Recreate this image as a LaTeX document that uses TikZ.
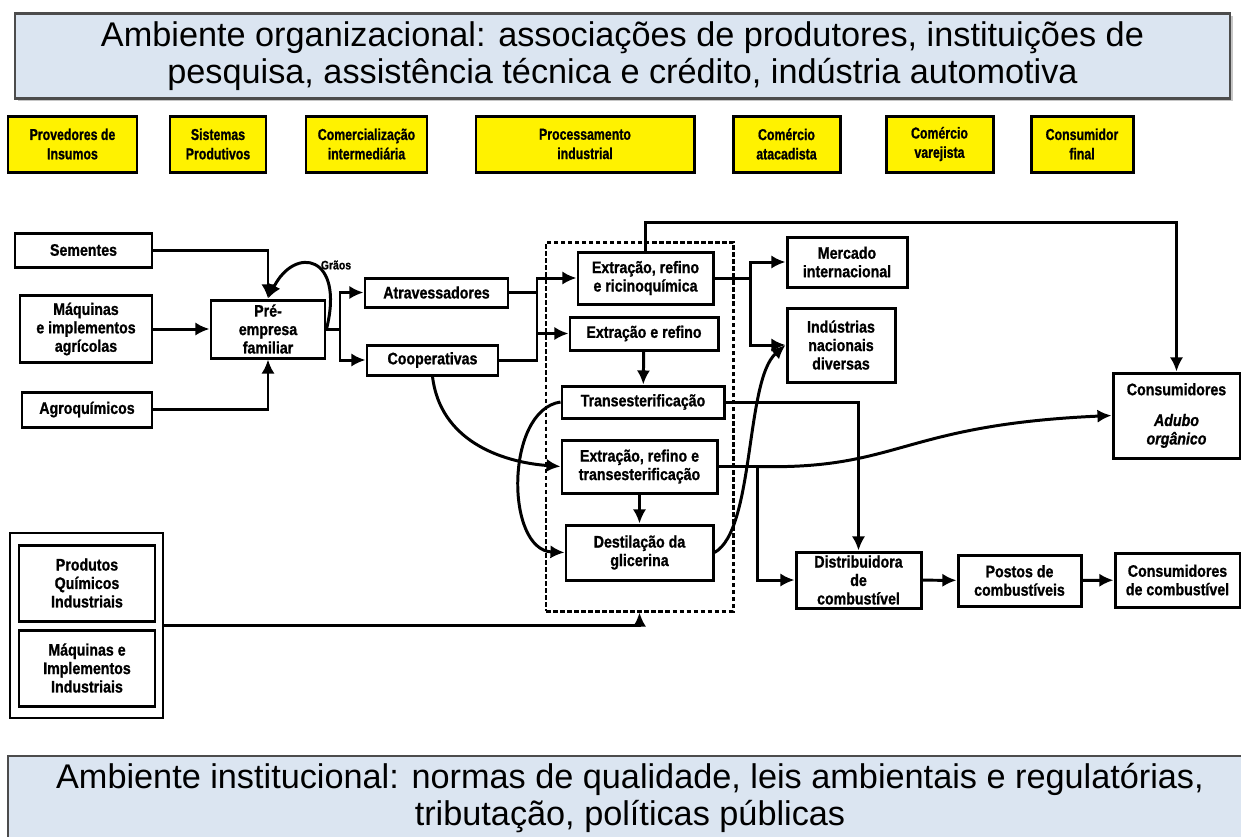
\documentclass[tikz,border=0pt]{standalone}
\usepackage{fontspec}
\setmainfont{Liberation Sans}
\newfontfamily\caixafont[FakeStretch=0.85,FakeBold=1]{Liberation Sans}
\newfontfamily\amarelofont[FakeStretch=0.78,FakeBold=1]{Liberation Sans}
\usetikzlibrary{arrows.meta,shadows}
\definecolor{azulfaixa}{RGB}{219,229,241}

\begin{document}
\begin{tikzpicture}[x=0.02cm, y=-0.02cm]
			\tikzset{caixa/.style={draw=black, line width=1.7pt, fill=white, inner sep=1pt, align=center, font=\caixafont\bfseries\fontsize{9.5}{10.5}\selectfont}, amarelo/.style={caixa, fill=yellow, font=\amarelofont\bfseries\fontsize{9}{11}\selectfont}, tam/.style 2 args={minimum width=#1*0.02cm, minimum height=#2*0.02cm}, faixa/.style={draw=black!70, line width=1.2pt, fill=azulfaixa, align=center, font=\fontsize{19.5}{21}\selectfont, drop shadow={opacity=0.45, shadow xshift=1.5pt, shadow yshift=-1.5pt}}, seta/.style={-{Latex[length=8pt,width=7.5pt]}, line width=1.7pt}, linha/.style={line width=1.7pt}};

			\useasboundingbox (0,0) rectangle (1241,836);

			\node[faixa, tam={1215}{85}] (fx1) at ( 622.5,  56) {Ambiente organizacional: associações de produtores, instituições de\\pesquisa, assistência técnica e crédito, indústria automotiva};
			\node[faixa, tam={1244}{84}] (fx2) at (   630,   798) {Ambiente institucional: normas de qualidade, leis ambientais e regulatórias,\\tributação, políticas públicas};

			\node[amarelo, tam={129}{56}] (y1) at (  72.5,   144) {Provedores de\\Insumos};
			\node[amarelo, tam={96}{56}]  (y2) at (   218,   144) {Sistemas\\Produtivos};
			\node[amarelo, tam={121}{56}] (y3) at ( 366.5,   144) {Comercialização\\intermediária};
			\node[amarelo, tam={218}{56}] (y4) at (   585,   144) {Processamento\\industrial};
			\node[amarelo, tam={107}{56}] (y5) at ( 786.5,   144) {Comércio\\atacadista};
			\node[amarelo, tam={107}{56}] (y6) at ( 939.5,   144) {Comércio\\varejista};
			\node[amarelo, tam={102}{56}] (y7) at (  1082,   144) {Consumidor\\final};

			\node[caixa, fill=none, dash pattern=on 2.6pt off 1.4pt, tam={187}{369}] (proc) at (639.5, 426.5) {};
			\node[caixa, fill=none, line width=1.4pt, tam={153}{185}] (ext) at (86.5, 625.5) {};

			\node[caixa, tam={137}{34}]  (sem)  at (  83.5,   250) {Sementes};
			\node[caixa, tam={132}{67}]  (maq)  at (    86,   329) {Máquinas\\e implementos\\agrícolas};
			\node[caixa, tam={130}{35}]  (agr)  at (    87, 409.5) {Agroquímicos};
			\node[caixa, tam={114}{58}]  (pre)  at (   268,   329) {Pré-\\empresa\\familiar};
			\node[caixa, tam={143}{29}]  (atr)  at ( 436.5, 292.5) {Atravessadores};
			\node[caixa, tam={131}{30}]  (coo)  at ( 432.5,   360) {Cooperativas};
			\node[caixa, tam={135}{52}]  (eric) at ( 645.5,   278) {Extração, refino\\e ricinoquímica};
			\node[caixa, tam={148}{33}]  (eref) at (   644, 333.5) {Extração e refino};
			\node[caixa, tam={162}{32}]  (tra)  at (   643,   402) {Transesterificação};
			\node[caixa, tam={155}{53}]  (ert)  at ( 639.5, 466.5) {Extração, refino e\\transesterificação};
			\node[caixa, tam={147}{55}]  (des)  at ( 639.5, 552.5) {Destilação da\\glicerina};
			\node[caixa, tam={120}{50}]  (mer)  at (   847,   262) {Mercado\\internacional};
			\node[caixa, tam={108}{74}]  (ind)  at (   841,   345) {Indústrias\\nacionais\\diversas};
			\node[caixa, tam={127}{85}]  (cadu) at (1176.5, 415.5) {Consumidores\\[7pt]\itshape Adubo\\\itshape orgânico};
			\node[caixa, tam={125}{56}]  (dis)  at ( 858.5,   580) {Distribuidora\\de\\combustível};
			\node[caixa, tam={123}{51}]  (pos)  at (1019.5, 580.5) {Postos de\\combustíveis};
			\node[caixa, tam={125}{54}]  (ccom) at (1177.5,   580) {Consumidores\\de combustível};
			\node[caixa, tam={136}{76}]  (prq)  at (    87,   583) {Produtos\\Químicos\\Industriais};
			\node[caixa, tam={136}{76}]  (mqi)  at (    87,   668) {Máquinas e\\Implementos\\Industriais};
			\node[font=\caixafont\bfseries\fontsize{7}{8}\selectfont] (grp) at (336, 265) {Grãos};

			\coordinate (ra) at (340, 329);
			\coordinate (rb) at (537, 333.5);
			\coordinate (rc) at (1176.5, 222);
			\coordinate (rd) at (750, 278);
			\coordinate (re) at (757, 466.5);

			\draw[seta] (sem.east) -| (pre.north);
			\draw[seta] (maq) -- (pre);
			\draw[seta] (agr.east) -| (pre.south);
			\draw[seta] (pre.east) .. controls (345,255) and (295,245) .. (pre.north);
			\draw[linha] (pre.east) -- (ra);
			\draw[seta] (ra) |- (atr.west);
			\draw[seta] (ra) |- (coo.west);
			\draw[linha] (atr.east) -| (rb);
			\draw[linha] (coo.east) -| (rb);
			\draw[seta] (rb) -- (eref.west);
			\draw[seta] (rb) |- (eric.west);
			\draw[seta] (eric.north) |- (rc) -- (cadu.north);
			\draw[linha] (eric.east) -- (rd);
			\draw[seta] (rd) |- (mer.west);
			\draw[seta] (rd) |- (ind.west);
			\draw[seta] (eref) -- (tra);
			\draw[seta] (tra.east) -| (dis.north);
			\draw[linha] (ert.east) -- (re);
			\draw[seta] (re) |- (dis.west);
			\draw[seta] (re) .. controls (900,470) and (900,425) .. (cadu.west);
			\draw[seta] (ert) -- (des);
			\draw[seta] (coo.south) .. controls (440,440) and (500,462) .. (ert.west);
			\draw[seta] (tra.west) .. controls (505,410) and (505,550) .. (des.west);
			\draw[seta] (des.east) .. controls (755,530) and (745,380) .. (ind.west);
			\draw[seta] (ext.east) -| (proc.south);
			\draw[seta] (dis) -- (pos);
			\draw[seta] (pos) -- (ccom);
		\end{tikzpicture}
\end{document}
